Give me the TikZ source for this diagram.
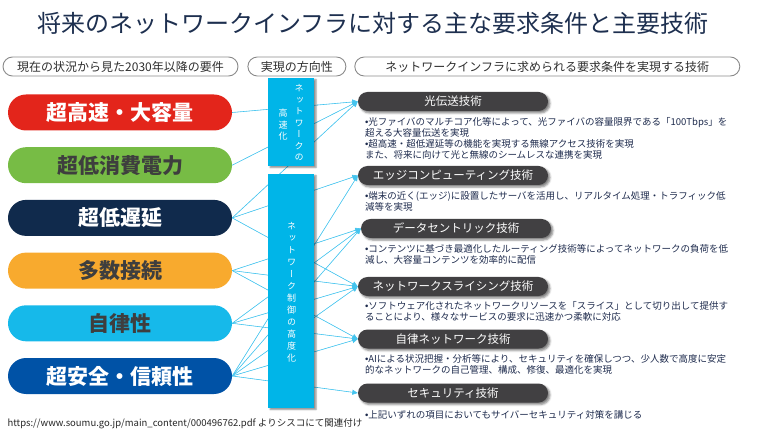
\documentclass[tikz,border=0pt]{standalone}
\usepackage{fontspec}
\setmainfont{Noto Sans CJK JP}
\newfontfamily\tatefont{Noto Sans CJK JP}[RawFeature=+vert]
\newfontfamily\bulfont{Liberation Sans}
\newcommand{\tbul}{{\bulfont •}}
\usetikzlibrary{arrows.meta,positioning,calc,shadows.blur}
\definecolor{cTitle}{HTML}{1D2F4F}
\definecolor{cHead}{HTML}{8A8A8A}
\definecolor{cHeadTxt}{HTML}{2E2E2E}
\definecolor{cRed}{HTML}{E3251B}
\definecolor{cGreen}{HTML}{77BC45}
\definecolor{cNavy}{HTML}{102A4C}
\definecolor{cOrange}{HTML}{F8AA2E}
\definecolor{cCyan}{HTML}{16B9EA}
\definecolor{cBlue}{HTML}{0052A6}
\definecolor{cDark}{HTML}{3E3E3E}
\definecolor{cBar}{HTML}{00B5E8}
\definecolor{cTech}{HTML}{414042}
\definecolor{cDesc}{HTML}{1E2B4D}
\definecolor{cLink}{HTML}{45C4EE}

\begin{document}
\begin{tikzpicture}[
    x=1pt, y=-1pt,
    head/.style={draw=cHead, line width=0.9pt, rounded corners=9.5pt, minimum height=19pt, inner sep=0pt, text=cHeadTxt, font=\fontsize{12}{13}\selectfont},
    need/.style={rounded corners=18pt, minimum width=224pt, minimum height=36pt, inner sep=0pt, font=\fontsize{21}{22}\selectfont\bfseries},
    bar/.style={fill=cBar, minimum width=46pt, inner sep=0pt, blur shadow={shadow xshift=2pt, shadow yshift=-1.5pt, shadow blur radius=1.5pt, shadow opacity=45}},
    tate/.style={align=center, text=white, inner sep=0pt, font=\tatefont\fontsize{9}{11.5}\selectfont},
    tech/.style={fill=cTech, rounded corners=9.5pt, minimum width=190pt, minimum height=19pt, inner sep=0pt, text=white, font=\fontsize{11.5}{12}\selectfont, blur shadow={shadow xshift=2pt, shadow yshift=-2pt, shadow blur radius=2pt, shadow opacity=50}},
    desc/.style={align=left, anchor=north west, inner sep=0pt, text=cDesc, font=\fontsize{9.5}{11}\selectfont},
    link/.style={-{Triangle[length=5.5pt,width=5pt]}, line width=0.6pt, draw=cLink, fill=cLink}
]
\useasboundingbox (0,0) rectangle (768,438);

\node[font=\fontsize{24}{26}\selectfont, text=cTitle] (title) at (373,23) {将来のネットワークインフラに対する主な要求条件と主要技術};

\node[head, minimum width=235pt] (hNeeds) at (120.5,66.5) {現在の状況から見た2030年以降の要件};
\node[head, minimum width=98pt, right=9pt of hNeeds] (hDir) {実現の方向性};
\node[head, minimum width=385pt, right=8pt of hDir] (hTech) {ネットワークインフラに求められる要求条件を実現する技術};

\node[need, fill=cRed, text=white] (speed) at (120,112.5) {超高速・大容量};
\node[need, fill=cGreen, text=cDark, below=16.3pt of speed] (power) {超低消費電力};
\node[need, fill=cNavy, text=white, below=16.3pt of power] (delay) {超低遅延};
\node[need, fill=cOrange, text=cDark, below=16.3pt of delay] (conn) {多数接続};
\node[need, fill=cCyan, text=cDark, below=16.3pt of conn] (autonomy) {自律性};
\node[need, fill=cBlue, text=white, below=16.3pt of autonomy] (secure) {超安全・信頼性};

\node[tech] (optic) at (453,101.5) {光伝送技術};
\node[tech] (edge) at (453,175.5) {エッジコンピューティング技術};
\node[tech] (data) at (456,228.5) {データセントリック技術};
\node[tech] (slice) at (453,286.5) {ネットワークスライシング技術};
\node[tech] (autonet) at (453,339) {自律ネットワーク技術};
\node[tech] (sec) at (453,393) {セキュリティ技術};

\node[desc] (dOptic) at ($(optic.south west)+(7,6)$) {\tbul 光ファイバのマルチコア化等によって、光ファイバの容量限界である「100Tbps」を\\超える大容量伝送を実現\\\tbul 超高速・超低遅延等の機能を実現する無線アクセス技術を実現\\また、将来に向けて光と無線のシームレスな連携を実現};
\node[desc] (dEdge) at ($(edge.south west)+(7,6)$) {\tbul 端末の近く(エッジ)に設置したサーバを活用し、リアルタイム処理・トラフィック低\\減等を実現};
\node[desc] (dData) at ($(data.south west)+(4,6)$) {\tbul コンテンツに基づき最適化したルーティング技術等によってネットワークの負荷を低\\減し、大容量コンテンツを効率的に配信};
\node[desc] (dSlice) at ($(slice.south west)+(7,5)$) {\tbul ソフトウェア化されたネットワークリソースを「スライス」として切り出して提供す\\ることにより、様々なサービスの要求に迅速かつ柔軟に対応};
\node[desc] (dAutonet) at ($(autonet.south west)+(7,6)$) {\tbul AIによる状況把握・分析等により、セキュリティを確保しつつ、少人数で高度に安定\\的なネットワークの自己管理、構成、修復、最適化を実現};
\node[desc] (dSec) at ($(sec.south west)+(7,7.5)$) {\tbul 上記いずれの項目においてもサイバーセキュリティ対策を講じる};

\draw[link] (speed.east) -- (optic.west);
\draw[link] (power.east) -- (optic.west);
\draw[link] (delay.east) -- (optic.west);
\draw[link] (delay.east) -- (edge.west);
\draw[link] (delay.east) -- (slice.west);
\draw[link] (conn.east) -- (data.west);
\draw[link] (conn.east) -- (slice.west);
\draw[link] (conn.east) -- (autonet.west);
\draw[link] (autonomy.east) -- (data.west);
\draw[link] (autonomy.east) -- (slice.west);
\draw[link] (autonomy.east) -- (autonet.west);
\draw[link] (secure.east) -- (edge.west);
\draw[link] (secure.east) -- (data.west);
\draw[link] (secure.east) -- (slice.west);
\draw[link] (secure.east) -- (autonet.west);
\draw[link] (secure.east) -- (sec.west);

\node[bar, minimum height=88pt] (fast) at (291,122) {};
\node[bar, minimum height=234pt] (ctrl) at (291,291) {};
\node[tate] (fastA) at (299,123) {ネ\\ッ\\ト\\ワ\\ー\\ク\\の};
\node[tate] (fastB) at (283,125) {高\\速\\化};
\node[tate, font=\tatefont\fontsize{9}{12}\selectfont] (ctrlA) at (291.5,292) {ネ\\ッ\\ト\\ワ\\ー\\ク\\制\\御\\の\\高\\度\\化};

\node[anchor=west, font=\fontsize{9.5}{10}\selectfont, text=black!85] (source) at (4,424) {https://www.soumu.go.jp/main\_content/000496762.pdf よりシスコにて関連付け};

\end{tikzpicture}
\end{document}
